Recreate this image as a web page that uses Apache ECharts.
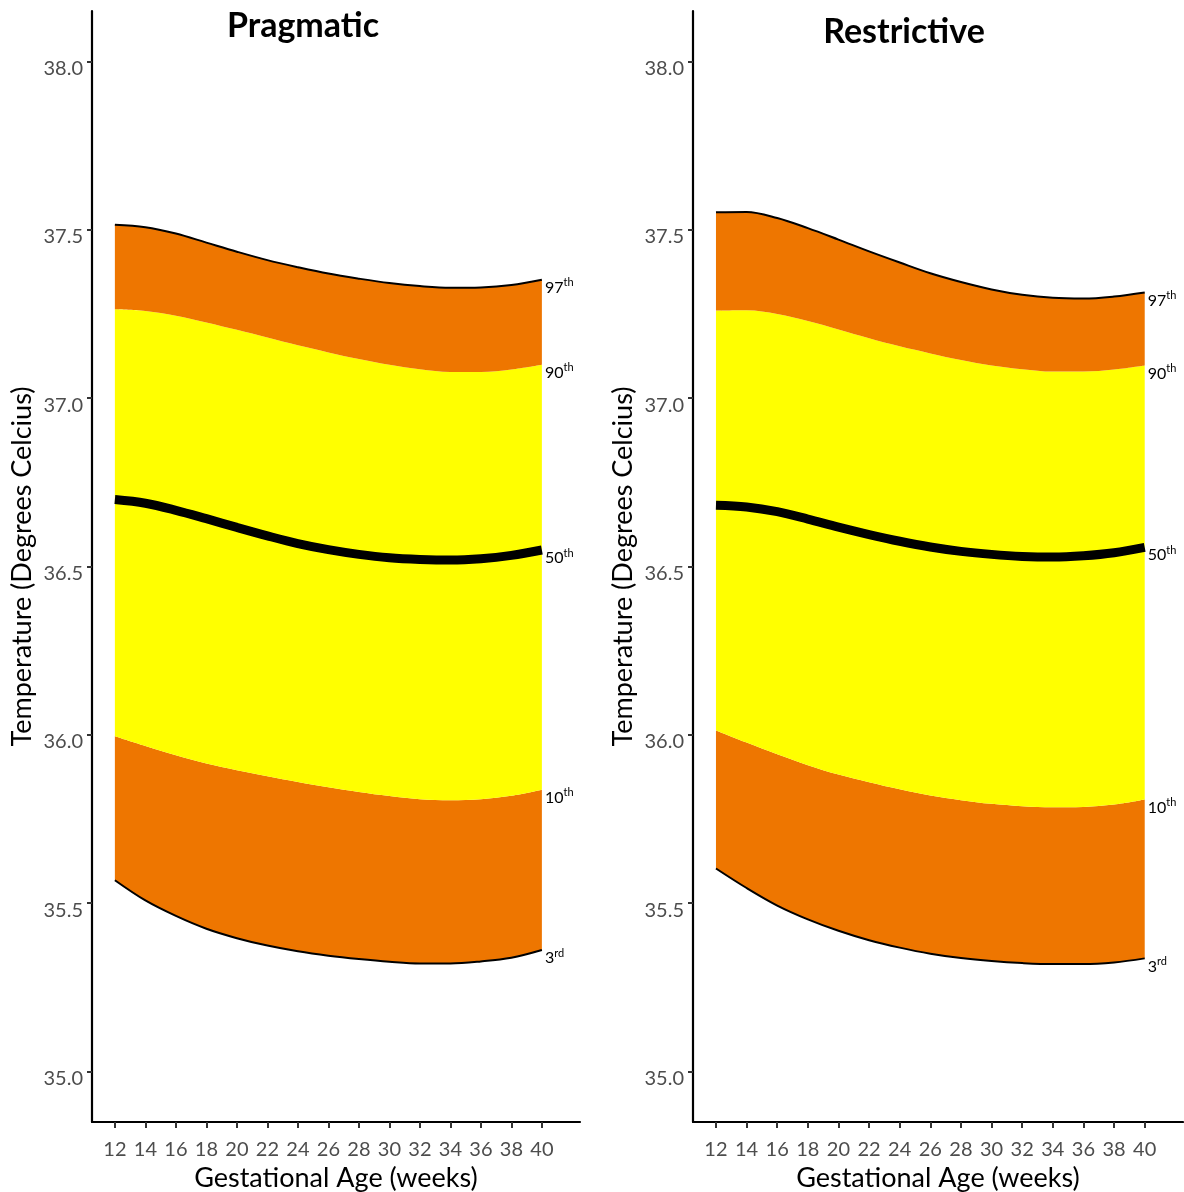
<!DOCTYPE html>
<html>
<head>
<meta charset="utf-8">
<script src="https://cdn.jsdelivr.net/npm/echarts@6/dist/echarts.min.js"></script>
<style>
  html, body { margin: 0; padding: 0; background: #fff; }
  #chart { width: 1184px; height: 1192px; }
</style>
</head>
<body>
<div id="chart"></div>
<script>
// ---- Data ----
const weeks = [12, 14, 16, 18, 20, 22, 24, 26, 28, 30, 32, 34, 36, 38, 40];
const xTicks = [12, 14, 16, 18, 20, 22, 24, 26, 28, 30, 32, 34, 36, 38, 40];
const yTicks = [35.0, 35.5, 36.0, 36.5, 37.0, 37.5, 38.0];
const panelTitles = ['Pragmatic', 'Restrictive'];

const pragP3  = [35.568, 35.508, 35.462, 35.424, 35.396, 35.374, 35.357, 35.344, 35.334, 35.326, 35.321, 35.321, 35.327, 35.338, 35.361];
const pragP10 = [35.996, 35.967, 35.939, 35.915, 35.895, 35.877, 35.860, 35.844, 35.830, 35.818, 35.809, 35.806, 35.809, 35.819, 35.837];
const pragP50 = [36.699, 36.688, 36.667, 36.642, 36.616, 36.591, 36.568, 36.550, 36.536, 36.526, 36.521, 36.519, 36.523, 36.533, 36.549];
const pragP90 = [37.264, 37.259, 37.245, 37.225, 37.203, 37.180, 37.157, 37.136, 37.116, 37.099, 37.086, 37.078, 37.078, 37.085, 37.099];
const pragP97 = [37.515, 37.508, 37.489, 37.462, 37.435, 37.410, 37.389, 37.370, 37.355, 37.342, 37.333, 37.328, 37.329, 37.336, 37.352];

const restP3  = [35.603, 35.545, 35.493, 35.452, 35.418, 35.390, 35.368, 35.350, 35.337, 35.328, 35.322, 35.319, 35.319, 35.324, 35.336];
const restP10 = [36.013, 35.977, 35.942, 35.910, 35.882, 35.859, 35.838, 35.820, 35.806, 35.795, 35.788, 35.785, 35.786, 35.793, 35.808];
const restP50 = [36.682, 36.677, 36.663, 36.641, 36.617, 36.595, 36.575, 36.558, 36.545, 36.536, 36.530, 36.528, 36.532, 36.541, 36.557];
const restP90 = [37.260, 37.261, 37.250, 37.229, 37.204, 37.178, 37.154, 37.133, 37.113, 37.097, 37.086, 37.079, 37.079, 37.085, 37.097];
const restP97 = [37.552, 37.553, 37.535, 37.505, 37.471, 37.436, 37.403, 37.371, 37.345, 37.323, 37.307, 37.298, 37.296, 37.302, 37.314];

const labelNums = { p3: '3', p10: '10', p50: '50', p90: '90', p97: '97' };
const labelSufs = { p3: 'rd', p10: 'th', p50: 'th', p90: 'th', p97: 'th' };

// ---- Styling ----
const FONT = 'Lato';
const ORANGE = '#EE7600';
const YELLOW = '#FFFF00';

const panels = [
  { p3: pragP3, p10: pragP10, p50: pragP50, p90: pragP90, p97: pragP97 },
  { p3: restP3, p10: restP10, p50: restP50, p90: restP90, p97: restP97 }
];

const grids = [
  { left: 92, top: 11, width: 488, height: 1111, outerBoundsMode: 'none', containLabel: false },
  { left: 693, top: 11, width: 490, height: 1111, outerBoundsMode: 'none', containLabel: false }
];

function endLabel(key) {
  return {
    show: true,
    formatter: () => '{n|' + labelNums[key] + '}{s|' + labelSufs[key] + '}',
    distance: 3,
    offset: [0, 8],
    rich: {
      n: { fontFamily: FONT, fontSize: 16, color: '#000' },
      s: { fontFamily: FONT, fontSize: 11, color: '#000', padding: [0, 0, 10, 0] }
    }
  };
}

const series = [];
panels.forEach((p, gi) => {
  // value first so that stacking happens on the temperature dimension
  const vx = arr => weeks.map((w, i) => [arr[i], w]);
  const diff = (a, b) => weeks.map((w, i) => [+(a[i] - b[i]).toFixed(4), w]);
  const pts = arr => weeks.map((w, i) => [w, arr[i]]);
  const stack = 'band' + gi;
  const common = { xAxisIndex: gi, yAxisIndex: gi, type: 'line', smooth: 0.35, symbol: 'none', silent: true, animation: false };
  const sc = Object.assign({}, common, { stack, encode: { x: 1, y: 0 } });
  series.push(Object.assign({}, sc, { name: 'base' + gi, data: vx(p.p3), lineStyle: { width: 0, opacity: 0 }, z: 1 }));
  series.push(Object.assign({}, sc, { name: 'b1' + gi, data: diff(p.p10, p.p3), lineStyle: { width: 0, opacity: 0 }, areaStyle: { color: ORANGE, opacity: 1 }, endLabel: endLabel('p10'), z: 1 }));
  series.push(Object.assign({}, sc, { name: 'b2' + gi, data: diff(p.p90, p.p10), lineStyle: { width: 0, opacity: 0 }, areaStyle: { color: YELLOW, opacity: 1 }, endLabel: endLabel('p90'), z: 1 }));
  series.push(Object.assign({}, sc, { name: 'b3' + gi, data: diff(p.p97, p.p90), lineStyle: { width: 0, opacity: 0 }, areaStyle: { color: ORANGE, opacity: 1 }, z: 1 }));
  series.push(Object.assign({}, common, { name: 'l3' + gi, data: pts(p.p3), lineStyle: { color: '#000', width: 2 }, endLabel: endLabel('p3'), z: 3 }));
  series.push(Object.assign({}, common, { name: 'l97' + gi, data: pts(p.p97), lineStyle: { color: '#000', width: 2 }, endLabel: endLabel('p97'), z: 3 }));
  series.push(Object.assign({}, common, { name: 'l50' + gi, data: pts(p.p50), lineStyle: { color: '#000', width: 9, cap: 'butt' }, endLabel: endLabel('p50'), z: 3 }));
});

const xAxes = grids.map((g, gi) => ({
  type: 'value', gridIndex: gi, min: 10.5, max: 42.5, z: 10,
  name: 'Gestational Age (weeks)', nameLocation: 'middle', nameGap: 31,
  nameTextStyle: { fontFamily: FONT, fontSize: 27, color: '#000' },
  splitLine: { show: false },
  axisLine: { show: true, onZero: false, lineStyle: { color: '#000', width: 2.2 } },
  axisTick: { show: true, customValues: xTicks, length: 6, lineStyle: { color: '#333', width: 2 } },
  axisLabel: { show: true, customValues: xTicks, margin: 18, fontFamily: FONT, fontSize: 20, color: '#4d4d4d' }
}));

const yAxes = grids.map((g, gi) => ({
  type: 'value', gridIndex: gi, min: 34.85, max: 38.15, z: 10,
  name: 'Temperature (Degrees Celcius)', nameLocation: 'middle', nameGap: 56, nameRotate: 90,
  nameTextStyle: { fontFamily: FONT, fontSize: 27, color: '#000' },
  splitLine: { show: false },
  axisLine: { show: true, onZero: false, lineStyle: { color: '#000', width: 2.2 } },
  axisTick: { show: true, customValues: yTicks, length: 5, lineStyle: { color: '#333', width: 2 } },
  axisLabel: { show: true, customValues: yTicks, margin: 9, fontFamily: FONT, fontSize: 20, color: '#4d4d4d',
    verticalAlign: 'top', lineHeight: 14,
    formatter: v => Number(v).toFixed(1) }
}));

const option = {
  backgroundColor: '#fff',
  animation: false,
  title: [
    { text: panelTitles[0], left: 298, top: 4, textAlign: 'center',
      textStyle: { fontFamily: FONT, fontSize: 34, fontWeight: 'bold', color: '#000' } },
    { text: panelTitles[1], left: 899, top: 10, textAlign: 'center',
      textStyle: { fontFamily: FONT, fontSize: 34, fontWeight: 'bold', color: '#000' } }
  ],
  grid: grids,
  xAxis: xAxes,
  yAxis: yAxes,
  series: series
};

const chart = echarts.init(document.getElementById('chart'), null, { renderer: 'canvas' });
chart.setOption(option);
</script>
</body>
</html>
